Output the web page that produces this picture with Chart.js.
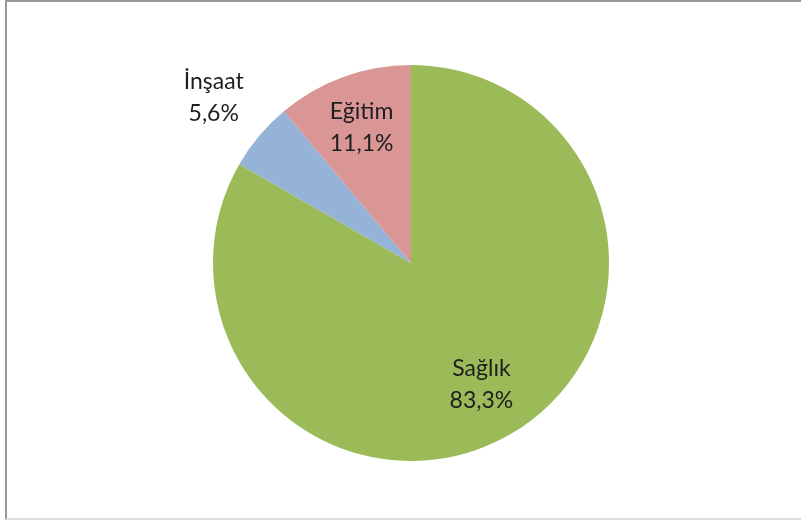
<!DOCTYPE html>
<html>
<head>
<meta charset="utf-8">
<script src="https://cdn.jsdelivr.net/npm/chart.js@4"></script>
<style>
  html, body { margin: 0; padding: 0; background: #fff; }
  #wrap { position: relative; width: 801px; height: 525px; overflow: hidden; }
  #frame {
    position: absolute; left: 5px; top: 0; width: 810px; height: 516px;
    border-left: 2px solid #979797; border-top: 2px solid #9a9a9a;
    border-bottom: 2px solid #dedede; box-sizing: content-box;
  }
  canvas { position: absolute; left: 0; top: 0; }
</style>
</head>
<body>
<div id="wrap">
  <div id="frame"></div>
  <canvas id="chart" width="801" height="525"></canvas>
</div>
<script>
// Sectors and their shares (%)
const categories = ["Sağlık", "İnşaat", "Eğitim"];
const shares = [83.3, 5.6, 11.1];
const shareLabels = ["83,3%", "5,6%", "11,1%"];
const colors = ["#9bbb59", "#95b3d7", "#d99694"];

// Draws "name / percent" labels, inside the slice or just outside it
const sliceLabels = {
  id: "sliceLabels",
  afterDatasetsDraw(chart, args, opts) {
    const ctx = chart.ctx;
    const meta = chart.getDatasetMeta(0);
    ctx.save();
    ctx.font = opts.font;
    ctx.fillStyle = opts.color;
    ctx.textAlign = "center";
    ctx.textBaseline = "middle";
    meta.data.forEach((arc, i) => {
      const p = arc.getProps(["x", "y", "startAngle", "endAngle", "outerRadius"], true);
      const mid = (p.startAngle + p.endAngle) / 2;
      const f = opts.radial[i];
      const cx = p.x + Math.cos(mid) * p.outerRadius * f;
      const cy = p.y + Math.sin(mid) * p.outerRadius * f;
      ctx.fillText(categories[i], cx, cy - opts.lineGap / 2);
      ctx.fillText(shareLabels[i], cx, cy + opts.lineGap / 2);
    });
    ctx.restore();
  }
};

new Chart(document.getElementById("chart"), {
  type: "pie",
  data: {
    labels: categories,
    datasets: [{
      data: shares,
      backgroundColor: colors,
      borderWidth: 0
    }]
  },
  options: {
    responsive: false,
    animation: false,
    layout: { padding: { left: 213, right: 192, top: 65, bottom: 64 } },
    plugins: {
      legend: { display: false },
      tooltip: { enabled: false },
      sliceLabels: {
        font: "23px Lato, 'Open Sans', sans-serif",
        color: "#1e1e1e",
        lineGap: 32,
        radial: [0.71, 1.30, 0.73]
      }
    }
  },
  plugins: [sliceLabels]
});
</script>
</body>
</html>
